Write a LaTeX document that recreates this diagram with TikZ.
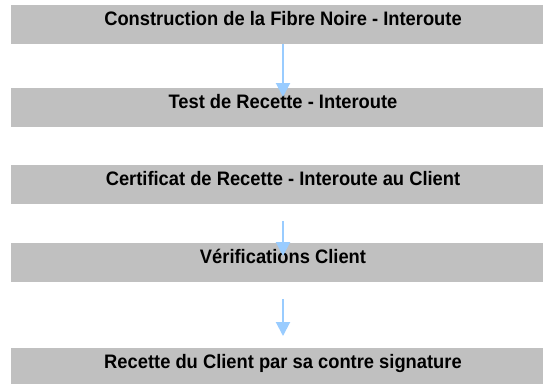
\documentclass[tikz,border=0pt]{standalone}
\usepackage{fontspec}
\setmainfont[FakeStretch=0.94]{Liberation Sans}
\usetikzlibrary{arrows.meta}
\definecolor{boxgray}{HTML}{C0C0C0}
\definecolor{arrowblue}{HTML}{99CCFF}
\begin{document}
\begin{tikzpicture}[x=1pt,y=-1pt,
  stagebox/.style={fill=boxgray, draw=none, inner sep=0pt, minimum width=544pt,
    text height=20.5pt, text depth=18.5pt, anchor=north,
    font=\fontsize{19.5}{23}\selectfont\bfseries},
  flow/.style={draw=arrowblue, line width=2pt,
    -{Triangle[width=14pt,length=14pt]}, arrowblue}]
\fill[white] (0,0) rectangle (543,383);
\useasboundingbox (0,0) rectangle (543,383);
\node[stagebox] (b1) at (283,5) {Construction de la Fibre Noire - Interoute};
\node[stagebox] (b2) at (283,88) {Test de Recette - Interoute};
\node[stagebox] (b3) at (283,165) {Certificat de Recette - Interoute au Client};
\node[stagebox] (b4) at (283,243) {Vérifications Client};
\node[stagebox] (b5) at (283,348) {Recette du Client par sa contre signature};
\coordinate (a1e) at (283,97);
\coordinate (a2s) at (283,221);
\coordinate (a2e) at (283,256);
\coordinate (a3s) at (283,299);
\coordinate (a3e) at (283,336);
\draw[flow] (b1.south) -- (a1e);
\draw[flow] (a2s) -- (a2e);
\draw[flow] (a3s) -- (a3e);
\end{tikzpicture}
\end{document}
